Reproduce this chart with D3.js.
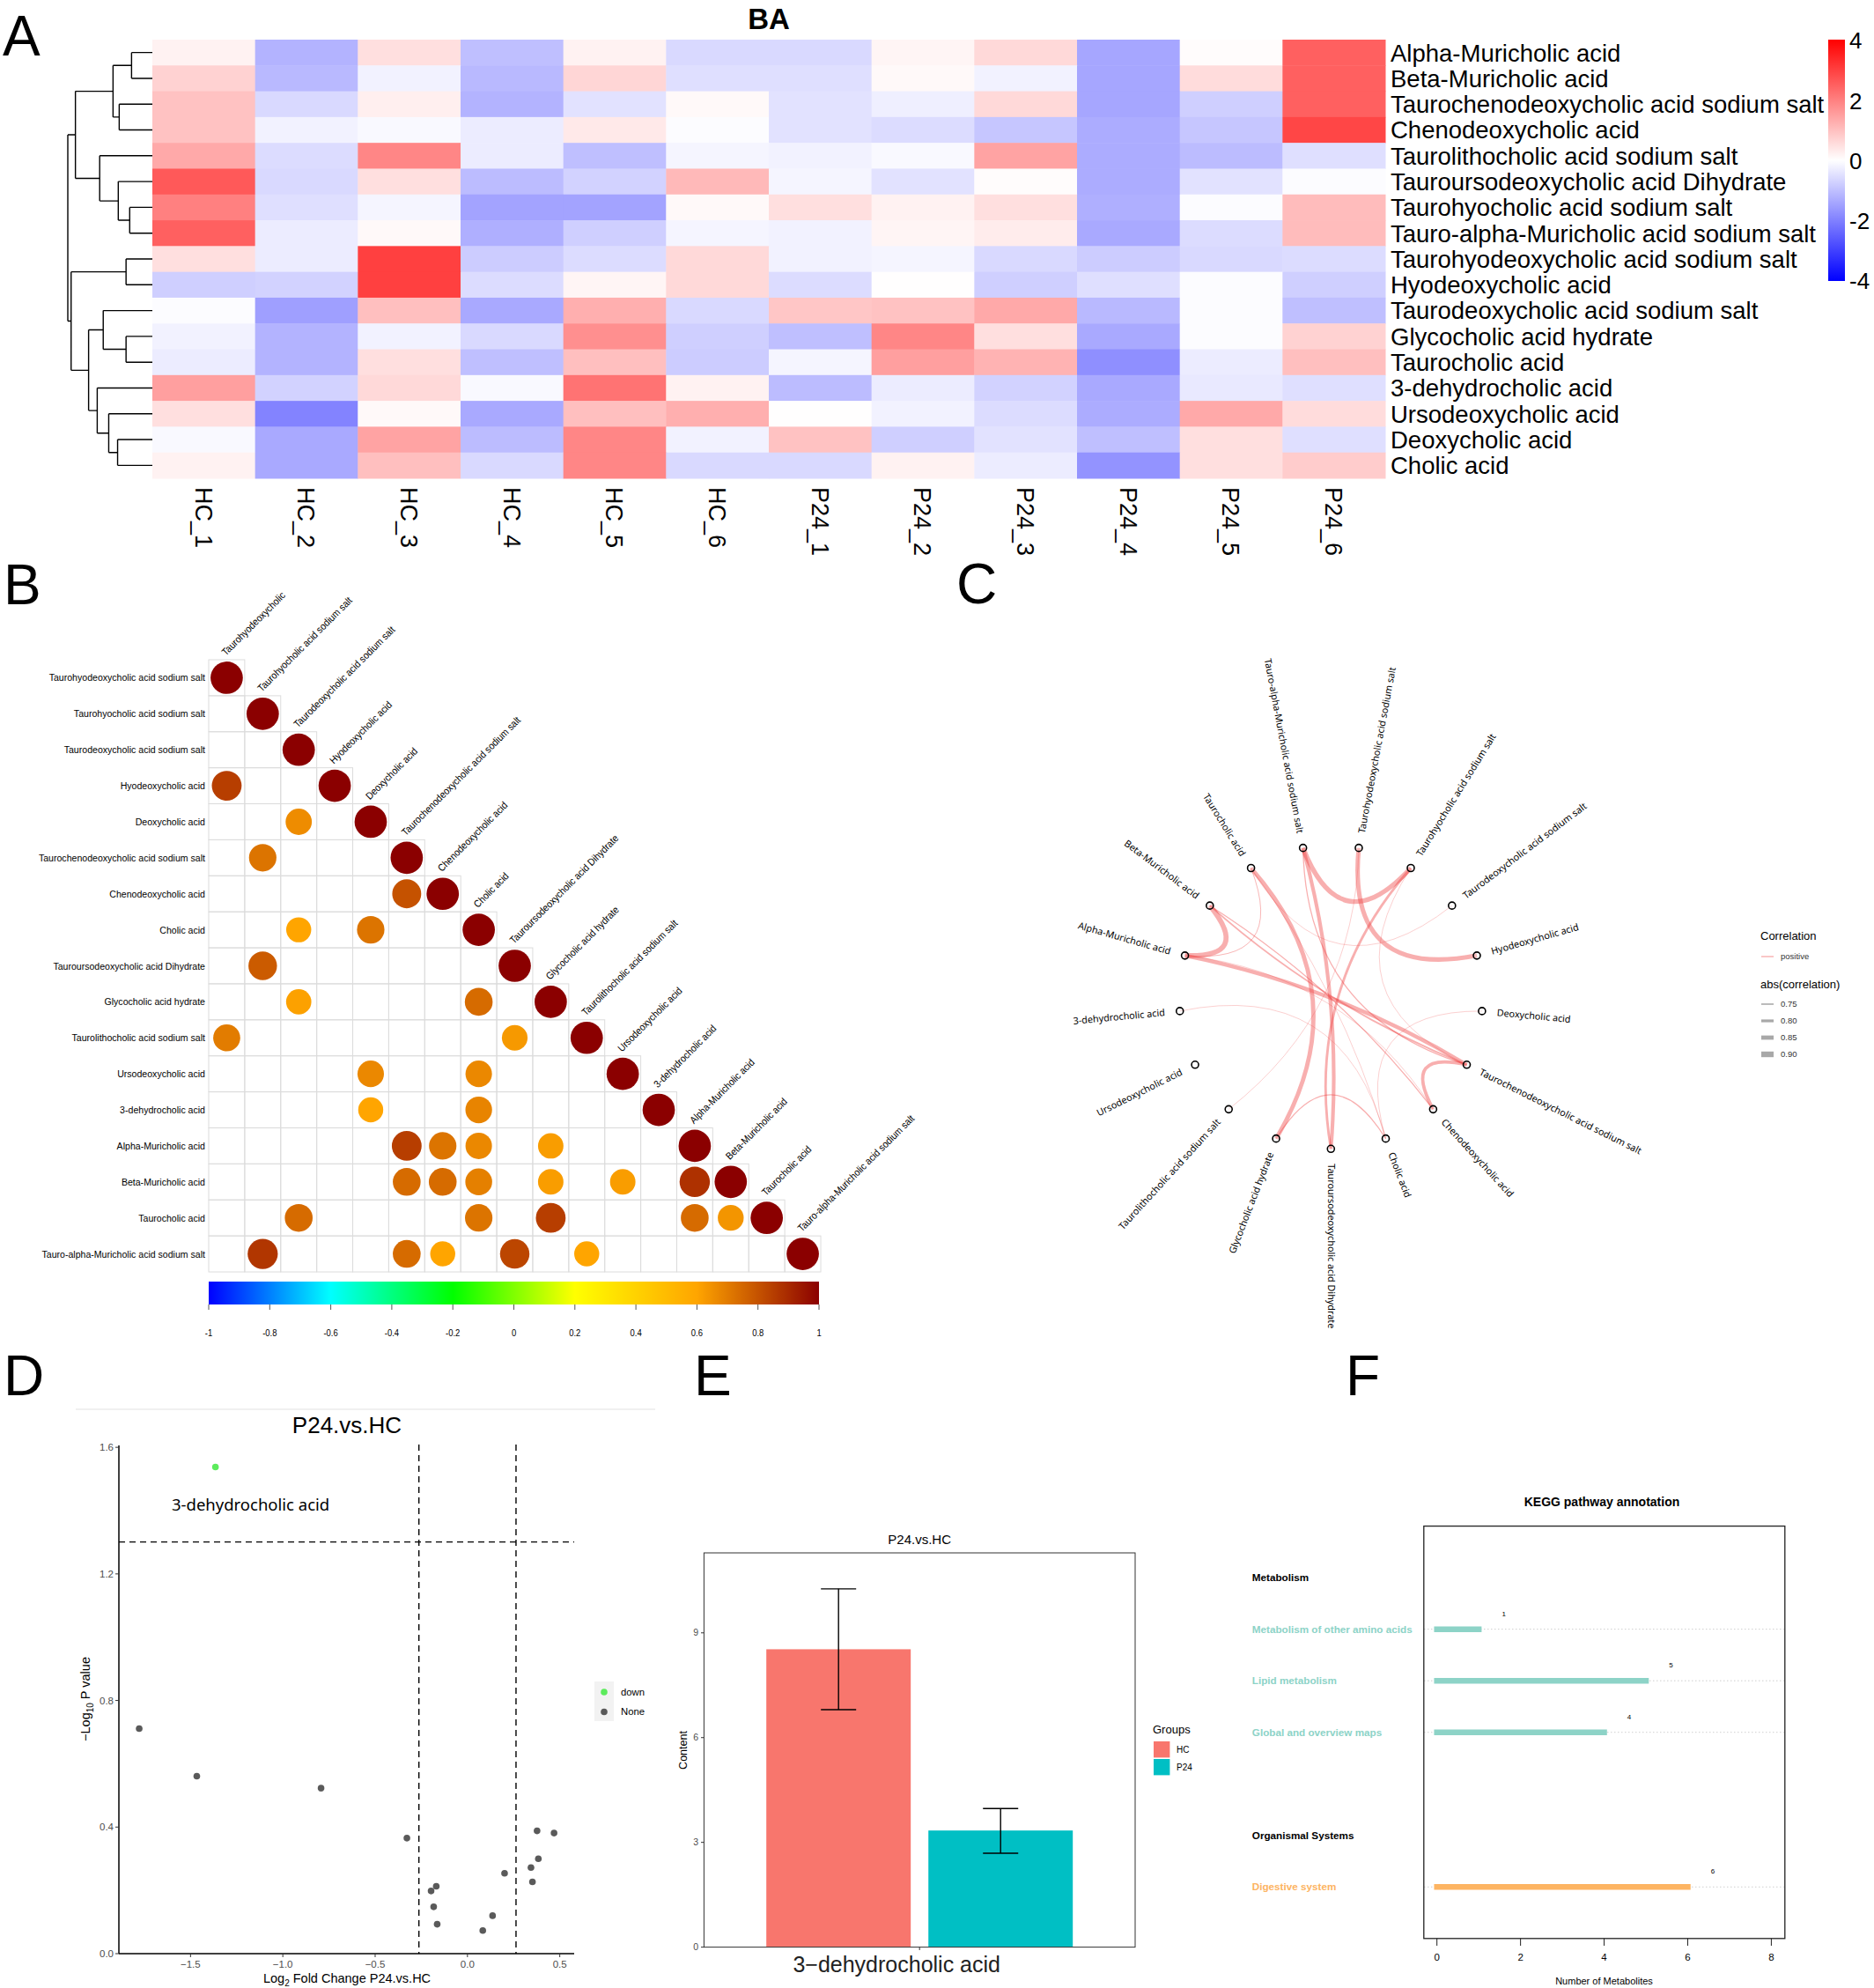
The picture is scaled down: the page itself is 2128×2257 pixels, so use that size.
<!DOCTYPE html>
<html lang="en">
<head>
<meta charset="UTF-8">
<title>BA</title>
<style>
body { margin: 0; background: #fff; }
svg { display: block; font-family: "Liberation Sans", Arial, sans-serif; }
</style>
</head>
<body>
<svg width="2128" height="2257"></svg>
<script src="https://d3js.org/d3.v7.min.js"></script>
<script>
// ---------- data ----------
var heatCols = ["HC_1", "HC_2", "HC_3", "HC_4", "HC_5", "HC_6", "P24_1", "P24_2", "P24_3", "P24_4", "P24_5", "P24_6"];
var heatRows = ["Alpha-Muricholic acid", "Beta-Muricholic acid", "Taurochenodeoxycholic acid sodium salt",
    "Chenodeoxycholic acid", "Taurolithocholic acid sodium salt", "Tauroursodeoxycholic acid Dihydrate",
    "Taurohyocholic acid sodium salt", "Tauro-alpha-Muricholic acid sodium salt", "Taurohyodeoxycholic acid sodium salt",
    "Hyodeoxycholic acid", "Taurodeoxycholic acid sodium salt", "Glycocholic acid hydrate", "Taurocholic acid",
    "3-dehydrocholic acid", "Ursodeoxycholic acid", "Deoxycholic acid", "Cholic acid"];
var heatValues = [
    [0.2, -1.2, 0.5, -1.0, 0.2, -0.6, -0.6, 0.15, 0.6, -1.4, 0.05, 2.5],
    [0.7, -1.1, -0.2, -1.1, 0.65, -0.5, -0.5, 0.1, -0.2, -1.4, 0.55, 2.5],
    [0.95, -0.6, 0.25, -1.2, -0.45, 0.1, -0.45, -0.25, 0.6, -1.4, -0.75, 2.5],
    [0.95, -0.2, -0.1, -0.3, 0.35, -0.05, -0.45, -0.55, -0.9, -1.3, -0.9, 2.9],
    [1.35, -0.55, 1.9, -0.3, -1.0, -0.15, -0.2, -0.1, 1.45, -1.3, -1.05, -0.5],
    [2.6, -0.6, 0.5, -1.05, -0.7, 1.1, -0.15, -0.45, 0.05, -1.3, -0.45, -0.05],
    [2.0, -0.5, -0.15, -1.45, -1.45, 0.1, 0.5, 0.2, 0.5, -1.25, -0.05, 1.05],
    [2.5, -0.3, 0.1, -1.25, -0.75, -0.15, -0.2, 0.15, 0.3, -1.35, -0.55, 1.05],
    [0.5, -0.3, 3.0, -0.8, -0.55, 0.6, -0.2, -0.15, -0.6, -0.8, -0.6, -0.55],
    [-0.75, -0.7, 3.0, -0.55, 0.15, 0.6, -0.55, 0.02, -0.75, -0.5, -0.05, -0.75],
    [-0.05, -1.5, 1.0, -1.35, 1.25, -0.6, 0.9, 0.95, 1.35, -1.1, -0.05, -1.0],
    [-0.2, -1.2, -0.2, -0.6, 1.75, -0.75, -1.0, 1.9, 0.5, -1.35, -0.05, 0.7],
    [-0.3, -1.2, 0.5, -1.0, 1.0, -0.8, -0.15, 1.5, 1.2, -1.75, -0.3, 1.0],
    [1.5, -0.7, 0.6, -0.1, 2.2, 0.2, -1.05, -0.3, -0.7, -1.35, -0.35, -0.5],
    [0.5, -1.95, 0.1, -1.35, 1.0, 1.25, 0.02, -0.2, -0.55, -1.3, 1.35, 0.55],
    [-0.1, -1.35, 1.45, -1.05, 1.9, -0.2, 0.95, -0.75, -0.45, -1.0, 0.5, -0.5],
    [0.2, -1.35, 1.0, -0.6, 1.9, -0.6, -0.6, 0.2, -0.3, -1.7, 0.5, 0.8]
];
// row dendrogram: [merge height, left, right], leaves are row indexes
var rowTree = [10.0,
    [9.10, [4.65, [2.46, 0, 1], [3.92, 2, 3]], [6.23, 4, [4.03, 5, [2.68, 6, 7]]]],
    [9.61, [3.11, 8, 9], [7.54, [5.81, 10, [3.11, 11, 12]], [6.52, 13, [5.16, 14, [4.11, 15, 16]]]]]];
var heatLegendTicks = [4, 2, 0, -2, -4];

var corrVars = ["Taurohyodeoxycholic acid sodium salt", "Taurohyocholic acid sodium salt",
    "Taurodeoxycholic acid sodium salt", "Hyodeoxycholic acid", "Deoxycholic acid",
    "Taurochenodeoxycholic acid sodium salt", "Chenodeoxycholic acid", "Cholic acid",
    "Tauroursodeoxycholic acid Dihydrate", "Glycocholic acid hydrate", "Taurolithocholic acid sodium salt",
    "Ursodeoxycholic acid", "3-dehydrocholic acid", "Alpha-Muricholic acid", "Beta-Muricholic acid",
    "Taurocholic acid", "Tauro-alpha-Muricholic acid sodium salt"];
var corrColLabels = ["Taurohyodeoxycholic"].concat(corrVars.slice(1));
// [row, col, r] lower triangle, significant cells only
var corrCells = [[3, 0, 0.85], [4, 2, 0.66], [5, 1, 0.72], [6, 5, 0.8], [7, 2, 0.6], [7, 4, 0.72],
    [8, 1, 0.78], [9, 2, 0.61], [9, 7, 0.74], [10, 0, 0.7], [10, 8, 0.63], [11, 4, 0.67], [11, 7, 0.67],
    [12, 4, 0.6], [12, 7, 0.68], [13, 5, 0.85], [13, 6, 0.72], [13, 7, 0.67], [13, 9, 0.62],
    [14, 5, 0.74], [14, 6, 0.74], [14, 7, 0.69], [14, 9, 0.62], [14, 11, 0.62], [14, 13, 0.88],
    [15, 2, 0.74], [15, 7, 0.72], [15, 9, 0.85], [15, 13, 0.74], [15, 14, 0.64],
    [16, 1, 0.87], [16, 5, 0.74], [16, 6, 0.6], [16, 8, 0.83], [16, 10, 0.6]];
var corrBarTicks = [-1, -0.8, -0.6, -0.4, -0.2, 0, 0.2, 0.4, 0.6, 0.8, 1];

// circular network, clockwise from the bottom
var netNodes = ["Tauroursodeoxycholic acid Dihydrate", "Glycocholic acid hydrate", "Taurolithocholic acid sodium salt",
    "Ursodeoxycholic acid", "3-dehydrocholic acid", "Alpha-Muricholic acid", "Beta-Muricholic acid",
    "Taurocholic acid", "Tauro-alpha-Muricholic acid sodium salt", "Taurohyodeoxycholic acid sodium salt",
    "Taurohyocholic acid sodium salt", "Taurodeoxycholic acid sodium salt", "Hyodeoxycholic acid",
    "Deoxycholic acid", "Taurochenodeoxycholic acid sodium salt", "Chenodeoxycholic acid", "Cholic acid"];
var netEdges = [
    ["Tauro-alpha-Muricholic acid sodium salt", "Taurohyocholic acid sodium salt", 0.87],
    ["Taurohyodeoxycholic acid sodium salt", "Hyodeoxycholic acid", 0.86],
    ["Alpha-Muricholic acid", "Beta-Muricholic acid", 0.88],
    ["Alpha-Muricholic acid", "Taurochenodeoxycholic acid sodium salt", 0.84],
    ["Taurochenodeoxycholic acid sodium salt", "Chenodeoxycholic acid", 0.82],
    ["Tauro-alpha-Muricholic acid sodium salt", "Tauroursodeoxycholic acid Dihydrate", 0.83],
    ["Taurocholic acid", "Glycocholic acid hydrate", 0.85],
    ["Taurohyocholic acid sodium salt", "Tauroursodeoxycholic acid Dihydrate", 0.79],
    ["Beta-Muricholic acid", "Taurochenodeoxycholic acid sodium salt", 0.76],
    ["Beta-Muricholic acid", "Chenodeoxycholic acid", 0.74],
    ["Alpha-Muricholic acid", "Chenodeoxycholic acid", 0.72],
    ["Tauro-alpha-Muricholic acid sodium salt", "Taurochenodeoxycholic acid sodium salt", 0.74],
    ["Taurocholic acid", "Taurodeoxycholic acid sodium salt", 0.72],
    ["Taurocholic acid", "Cholic acid", 0.72],
    ["Taurocholic acid", "Alpha-Muricholic acid", 0.73],
    ["Glycocholic acid hydrate", "Cholic acid", 0.74],
    ["Deoxycholic acid", "Cholic acid", 0.72],
    ["Taurohyocholic acid sodium salt", "Taurochenodeoxycholic acid sodium salt", 0.72],
    ["Taurohyodeoxycholic acid sodium salt", "Taurolithocholic acid sodium salt", 0.66],
    ["3-dehydrocholic acid", "Cholic acid", 0.68]];
var netLegendWidths = [0.75, 0.80, 0.85, 0.90];

var volcX = [-1.365, -1.778, -1.466, -0.793, -0.328, -0.197, -0.169, -0.183, -0.164, 0.083, 0.136, 0.201, 0.344, 0.352, 0.377, 0.384, 0.469];
var volcY = [1.538, 0.711, 0.561, 0.523, 0.365, 0.198, 0.213, 0.148, 0.093, 0.073, 0.120, 0.254, 0.272, 0.227, 0.388, 0.300, 0.381];
var volcGroup = ["down", "None", "None", "None", "None", "None", "None", "None", "None", "None", "None", "None", "None", "None", "None", "None", "None"];
var volcXTicks = [-1.5, -1.0, -0.5, 0.0, 0.5];
var volcYTicks = [0.0, 0.4, 0.8, 1.2, 1.6];

var barGroups = ["HC", "P24"];
var barMeans = [8.53, 3.34];
var barUpper = [10.26, 3.97];
var barLower = [6.80, 2.69];
var barTicks = [0, 3, 6, 9];

var keggLabels = ["Metabolism", "Metabolism of other amino acids", "Lipid metabolism", "Global and overview maps", "", "Organismal Systems", "Digestive system"];
var keggCounts = [null, 1, 5, 4, null, null, 6];
var keggClass = ["head", "met", "met", "met", "", "head", "org"];
var keggTicks = [0, 2, 4, 6, 8];

// ---------- setup ----------
var svg = d3.select("svg");
svg.append("rect").attr("width", 2128).attr("height", 2257).attr("fill", "#fff");

function letter(t, x, y) {
    svg.append("text").attr("x", x).attr("y", y).attr("font-size", 64).text(t);
}
letter("A", 3, 63);
letter("B", 4, 686);
letter("C", 1086, 685);
letter("D", 4, 1584);
letter("E", 788, 1584);
letter("F", 1528, 1584);

// ---------- A: heatmap ----------
var gA = svg.append("g");
var xA = d3.scaleBand().domain(heatCols).range([173, 1573]);
var yA = d3.scaleBand().domain(heatRows).range([45, 543]);
var heatColor = d3.scaleLinear().domain([-4, 0, 4]).range(["#0000FF", "#FFFFFF", "#FF0000"]);

heatRows.forEach(function(r, i) {
    gA.selectAll(null).data(heatValues[i]).enter().append("rect")
        .attr("x", function(d, j) { return xA(heatCols[j]); })
        .attr("y", yA(r))
        .attr("width", xA.bandwidth() + 0.5)
        .attr("height", yA.bandwidth() + 0.5)
        .attr("fill", function(d) { return heatColor(d); });
});

gA.append("text").attr("x", 873).attr("y", 33).attr("text-anchor", "middle")
    .attr("font-size", 33).attr("font-weight", "bold").text("BA");

gA.selectAll(".rl").data(heatRows).enter().append("text")
    .attr("x", 1579).attr("y", function(d) { return yA(d) + yA.bandwidth() / 2; })
    .attr("dy", "0.36em").attr("font-size", 27.5).text(function(d) { return d; });

gA.selectAll(".cl").data(heatCols).enter().append("text")
    .attr("transform", function(d) { return "translate(" + (xA(d) + xA.bandwidth() / 2) + ",553) rotate(90)"; })
    .attr("dy", "0.36em").attr("font-size", 27).text(function(d) { return d; });

// dendrogram
function toNode(t) {
    return Array.isArray(t) ? { h: t[0], children: [toNode(t[1]), toNode(t[2])] } : { h: 0, leaf: t };
}
var treeRoot = d3.hierarchy(toNode(rowTree));
treeRoot.eachAfter(function(n) {
    n.py = n.children ? (n.children[0].py + n.children[1].py) / 2 : yA(heatRows[n.data.leaf]) + yA.bandwidth() / 2;
});
var dendroX = d3.scaleLinear().domain([0, 10]).range([173, 77]);
var dendroPath = d3.path();
treeRoot.descendants().forEach(function(n) {
    if (!n.children) return;
    var x = dendroX(n.data.h);
    dendroPath.moveTo(x, n.children[0].py);
    dendroPath.lineTo(x, n.children[1].py);
    n.children.forEach(function(c) {
        dendroPath.moveTo(x, c.py);
        dendroPath.lineTo(dendroX(c.data.h), c.py);
    });
});
gA.append("path").attr("d", dendroPath.toString()).attr("fill", "none")
    .attr("stroke", "#000").attr("stroke-width", 1.4);

// legend
var heatGrad = svg.append("defs").append("linearGradient").attr("id", "heatGrad")
    .attr("x1", 0).attr("x2", 0).attr("y1", 1).attr("y2", 0);
[-4, -2, 0, 2, 4].forEach(function(v) {
    heatGrad.append("stop").attr("offset", (v + 4) / 8).attr("stop-color", heatColor(v));
});
var legY = d3.scaleLinear().domain([-4, 4]).range([319, 46]);
gA.append("rect").attr("x", 2076).attr("y", 45).attr("width", 19).attr("height", 274).attr("fill", "url(#heatGrad)");
gA.selectAll(".lt").data(heatLegendTicks).enter().append("text")
    .attr("x", 2100).attr("y", function(d) { return legY(d); }).attr("dy", "0.36em")
    .attr("font-size", 26).text(function(d) { return d; });

// ---------- B: correlation plot ----------
var gB = svg.append("g");
var xB = d3.scaleBand().domain(d3.range(17)).range([237, 932]);
var yB = d3.scaleBand().domain(d3.range(17)).range([749, 1444]);
var corrColor = d3.scaleLinear().domain([-1, -0.6, -0.2, 0.2, 0.6, 1])
    .range(["#0000FF", "#00FFFF", "#00FF00", "#FFFF00", "#FFA500", "#8B0000"]);
var cell = xB.bandwidth();

var triCells = [];
d3.range(17).forEach(function(i) { d3.range(i + 1).forEach(function(j) { triCells.push([i, j]); }); });
gB.selectAll(".gc").data(triCells).enter().append("rect")
    .attr("x", function(d) { return xB(d[1]); }).attr("y", function(d) { return yB(d[0]); })
    .attr("width", cell).attr("height", cell)
    .attr("fill", "none").attr("stroke", "#DCDCDC").attr("stroke-width", 1);

var allCells = corrCells.concat(corrVars.map(function(v, i) { return [i, i, 1]; }));
gB.selectAll(".cc").data(allCells).enter().append("circle")
    .attr("cx", function(d) { return xB(d[1]) + cell / 2; })
    .attr("cy", function(d) { return yB(d[0]) + cell / 2; })
    .attr("r", function(d) { return 0.449 * cell * Math.sqrt(Math.abs(d[2])); })
    .attr("fill", function(d) { return corrColor(d[2]); });

gB.selectAll(".rowl").data(corrVars).enter().append("text")
    .attr("transform", function(d, i) { return "translate(233," + (yB(i) + cell / 2) + ") scale(0.92,1)"; })
    .attr("text-anchor", "end").attr("dy", "0.35em").attr("font-size", 11.5)
    .text(function(d) { return d; });

gB.selectAll(".coll").data(corrColLabels).enter().append("text")
    .attr("transform", function(d, i) { return "translate(" + (xB(i) + cell / 2 - 1) + "," + (yB(i) - 4) + ") rotate(-45) scale(0.9,1)"; })
    .attr("font-size", 11.5).text(function(d) { return d; });

var cbScale = d3.scaleLinear().domain([-1, 1]).range([237, 930]);
var cbGrad = svg.select("defs").append("linearGradient").attr("id", "cbGrad");
corrColor.domain().forEach(function(v) {
    cbGrad.append("stop").attr("offset", (v + 1) / 2).attr("stop-color", corrColor(v));
});
gB.append("rect").attr("x", 237).attr("y", 1455).attr("width", 693).attr("height", 26).attr("fill", "url(#cbGrad)");
gB.selectAll(".cbt").data(corrBarTicks).enter().append("line")
    .attr("x1", function(d) { return cbScale(d); }).attr("x2", function(d) { return cbScale(d); })
    .attr("y1", 1481).attr("y2", 1487).attr("stroke", "#555");
gB.selectAll(".cbl").data(corrBarTicks).enter().append("text")
    .attr("transform", function(d) { return "translate(" + cbScale(d) + ",1517) scale(0.86,1)"; })
    .attr("text-anchor", "middle").attr("font-size", 11).text(function(d) { return d; });

// ---------- C: circular network ----------
var gC = svg.append("g");
var netC = [1511.3, 1132], netR = 172.3;
var netAngle = d3.scaleLinear().domain([0, netNodes.length]).range([90, 450]);
function nodeAngle(name) { return netAngle(netNodes.indexOf(name)); }
function nodePos(name, r) {
    var a = nodeAngle(name) * Math.PI / 180;
    return [netC[0] + r * Math.cos(a), netC[1] + r * Math.sin(a)];
}
var edgeWidth = d3.scaleLinear().domain([0.72, 0.9]).range([0.6, 6.4]).clamp(true);

gC.selectAll(".edge").data(netEdges).enter().append("path")
    .attr("d", function(d) {
        var pa = nodePos(d[0], netR), pb = nodePos(d[1], netR);
        var da = Math.abs(nodeAngle(d[0]) - nodeAngle(d[1])) % 360;
        if (da > 180) da = 360 - da;
        var k = 0.2 + 0.0099 * da;
        var mx = (pa[0] + pb[0]) / 2, my = (pa[1] + pb[1]) / 2;
        var p = d3.path();
        p.moveTo(pa[0], pa[1]);
        p.quadraticCurveTo(mx + k * (netC[0] - mx), my + k * (netC[1] - my), pb[0], pb[1]);
        return p.toString();
    })
    .attr("fill", "none").attr("stroke", "#EE4040").attr("stroke-opacity", 0.42)
    .attr("stroke-width", function(d) { return edgeWidth(d[2]); });

gC.selectAll(".node").data(netNodes).enter().append("circle")
    .attr("cx", function(d) { return nodePos(d, netR)[0]; })
    .attr("cy", function(d) { return nodePos(d, netR)[1]; })
    .attr("r", 4).attr("fill", "#fff").attr("fill-opacity", 0.2)
    .attr("stroke", "#000").attr("stroke-width", 1.6);

gC.selectAll(".nl").data(netNodes).enter().append("text")
    .attr("transform", function(d) {
        var a = nodeAngle(d), p = nodePos(d, netR + 17);
        var left = Math.cos(a * Math.PI / 180) < -1e-6;
        return "translate(" + p[0] + "," + p[1] + ") rotate(" + (left ? a - 180 : a) + ")";
    })
    .attr("text-anchor", function(d) { return Math.cos(nodeAngle(d) * Math.PI / 180) < -1e-6 ? "end" : "start"; })
    .attr("dy", "0.35em").attr("font-family", "'Noto Sans', 'DejaVu Sans', sans-serif")
    .attr("font-size", 10.8).text(function(d) { return d; });

// legend
gC.append("text").attr("x", 1999).attr("y", 1067).attr("font-size", 13).text("Correlation");
gC.append("line").attr("x1", 2000).attr("x2", 2014).attr("y1", 1086).attr("y2", 1086)
    .attr("stroke", "#EE4444").attr("stroke-opacity", 0.5).attr("stroke-width", 1.2);
gC.append("text").attr("x", 2022).attr("y", 1089).attr("font-size", 9.5).attr("fill", "#333").text("positive");
gC.append("text").attr("x", 1999).attr("y", 1122).attr("font-size", 13).text("abs(correlation)");
gC.selectAll(".lw").data(netLegendWidths).enter().append("line")
    .attr("x1", 2000).attr("x2", 2014)
    .attr("y1", function(d, i) { return 1140 + i * 19; }).attr("y2", function(d, i) { return 1140 + i * 19; })
    .attr("stroke", "#A8A8A8").attr("stroke-width", function(d) { return edgeWidth(d); });
gC.selectAll(".lwt").data(netLegendWidths).enter().append("text")
    .attr("x", 2022).attr("y", function(d, i) { return 1143 + i * 19; })
    .attr("font-size", 9.5).attr("fill", "#333").text(function(d) { return d.toFixed(2); });

// ---------- D: volcano ----------
var gD = svg.append("g");
var xD = d3.scaleLinear().domain([-1.888, 0.578]).range([135, 652]);
var yD = d3.scaleLinear().domain([0, 1.606]).range([2218, 1641]);
var volcColor = { down: "#5CEB5C", None: "#5A5A5A" };

gD.append("line").attr("x1", 86).attr("x2", 744).attr("y1", 1600).attr("y2", 1600).attr("stroke", "#EBEBEB").attr("stroke-width", 1.5);
gD.append("text").attr("x", 394).attr("y", 1627).attr("text-anchor", "middle").attr("font-size", 26).text("P24.vs.HC");

[-0.263, 0.263].forEach(function(v) {
    gD.append("line").attr("x1", xD(v)).attr("x2", xD(v)).attr("y1", 1640).attr("y2", 2218)
        .attr("stroke", "#000").attr("stroke-width", 1.4).attr("stroke-dasharray", "7,5");
});
gD.append("line").attr("x1", 135).attr("x2", 652).attr("y1", yD(1.301)).attr("y2", yD(1.301))
    .attr("stroke", "#000").attr("stroke-width", 1.4).attr("stroke-dasharray", "7,5");

gD.append("line").attr("x1", 135).attr("x2", 135).attr("y1", 1641).attr("y2", 2218).attr("stroke", "#000").attr("stroke-width", 1.5);
gD.append("line").attr("x1", 135).attr("x2", 652).attr("y1", 2218).attr("y2", 2218).attr("stroke", "#000").attr("stroke-width", 1.5);

gD.selectAll(".yt").data(volcYTicks).enter().append("line")
    .attr("x1", 131).attr("x2", 135).attr("y1", function(d) { return yD(d); }).attr("y2", function(d) { return yD(d); })
    .attr("stroke", "#333");
gD.selectAll(".ytl").data(volcYTicks).enter().append("text")
    .attr("x", 129).attr("y", function(d) { return yD(d); }).attr("dy", "0.35em").attr("text-anchor", "end")
    .attr("font-size", 11.5).attr("fill", "#4D4D4D").text(function(d) { return d.toFixed(1); });
gD.selectAll(".xt").data(volcXTicks).enter().append("line")
    .attr("x1", function(d) { return xD(d); }).attr("x2", function(d) { return xD(d); }).attr("y1", 2218).attr("y2", 2222)
    .attr("stroke", "#333");
gD.selectAll(".xtl").data(volcXTicks).enter().append("text")
    .attr("x", function(d) { return xD(d); }).attr("y", 2234).attr("text-anchor", "middle")
    .attr("font-size", 11.5).attr("fill", "#4D4D4D").text(function(d) { return d.toFixed(1).replace("-", "\u2212"); });

var xlab = gD.append("text").attr("x", 394).attr("y", 2251).attr("text-anchor", "middle").attr("font-size", 14.5);
xlab.append("tspan").text("Log");
xlab.append("tspan").attr("dy", 4).attr("font-size", 10).text("2");
xlab.append("tspan").attr("dy", -4).text(" Fold Change P24.vs.HC");
var ylab = gD.append("text").attr("transform", "translate(102,1929) rotate(-90)").attr("text-anchor", "middle").attr("font-size", 14.5);
ylab.append("tspan").text("\u2212Log");
ylab.append("tspan").attr("dy", 4).attr("font-size", 10).text("10");
ylab.append("tspan").attr("dy", -4).text(" P value");

gD.selectAll(".pt").data(volcX).enter().append("circle")
    .attr("cx", function(d) { return xD(d); })
    .attr("cy", function(d, i) { return yD(volcY[i]); })
    .attr("r", 3.8).attr("fill", function(d, i) { return volcColor[volcGroup[i]]; });
gD.append("text").attr("x", 195).attr("y", 1715).attr("font-family", "'Noto Sans', sans-serif")
    .attr("font-size", 18.5).text("3-dehydrocholic acid");

gD.append("rect").attr("x", 675).attr("y", 1909).attr("width", 22).attr("height", 45).attr("fill", "#F2F2F2");
["down", "None"].forEach(function(g, i) {
    gD.append("circle").attr("cx", 686).attr("cy", 1921 + i * 22.5).attr("r", 3.8).attr("fill", volcColor[g]);
    gD.append("text").attr("x", 705).attr("y", 1921 + i * 22.5).attr("dy", "0.35em").attr("font-size", 11.3).text(g);
});

// ---------- E: bar chart ----------
var gE = svg.append("g");
var yE = d3.scaleLinear().domain([0, 11.29]).range([2210.6, 1763]);
var cxE = 1044.2;
var xE = d3.scaleBand().domain(barGroups).range([cxE - 174, cxE + 174]).paddingInner(0.109);
var barColor = d3.scaleOrdinal().domain(barGroups).range(["#F8766D", "#00BFC4"]);

gE.append("text").attr("x", cxE).attr("y", 1753).attr("text-anchor", "middle").attr("font-size", 15).text("P24.vs.HC");
gE.selectAll(".bar").data(barGroups).enter().append("rect")
    .attr("x", function(d) { return xE(d); }).attr("width", xE.bandwidth())
    .attr("y", function(d, i) { return yE(barMeans[i]); })
    .attr("height", function(d, i) { return yE(0) - yE(barMeans[i]); })
    .attr("fill", function(d) { return barColor(d); });
barGroups.forEach(function(g, i) {
    var cx = xE(g) + xE.bandwidth() / 2;
    gE.append("line").attr("x1", cx).attr("x2", cx).attr("y1", yE(barUpper[i])).attr("y2", yE(barLower[i])).attr("stroke", "#000").attr("stroke-width", 1.4);
    [barUpper[i], barLower[i]].forEach(function(v) {
        gE.append("line").attr("x1", cx - 20).attr("x2", cx + 20).attr("y1", yE(v)).attr("y2", yE(v)).attr("stroke", "#000").attr("stroke-width", 1.4);
    });
});
gE.append("rect").attr("x", 799.4).attr("y", 1763).attr("width", 489.6).attr("height", 447.6)
    .attr("fill", "none").attr("stroke", "#333").attr("stroke-width", 1);
gE.selectAll(".yt").data(barTicks).enter().append("line")
    .attr("x1", 796).attr("x2", 799.4).attr("y1", function(d) { return yE(d); }).attr("y2", function(d) { return yE(d); })
    .attr("stroke", "#333");
gE.selectAll(".ytl").data(barTicks).enter().append("text")
    .attr("x", 793).attr("y", function(d) { return yE(d); }).attr("dy", "0.35em").attr("text-anchor", "end")
    .attr("font-size", 10.5).attr("fill", "#4D4D4D").text(function(d) { return d; });
gE.append("line").attr("x1", cxE).attr("x2", cxE).attr("y1", 2210.6).attr("y2", 2214).attr("stroke", "#333");
gE.append("text").attr("x", cxE - 26).attr("y", 2239).attr("text-anchor", "middle").attr("font-size", 25)
    .attr("fill", "#222").text("3\u2212dehydrocholic acid");
gE.append("text").attr("transform", "translate(780,1987) rotate(-90)").attr("text-anchor", "middle")
    .attr("font-size", 12.5).text("Content");
gE.append("text").attr("x", 1309).attr("y", 1968).attr("font-size", 13).text("Groups");
barGroups.forEach(function(g, i) {
    gE.append("rect").attr("x", 1310).attr("y", 1977 + i * 20).attr("width", 18.4).attr("height", 18.4).attr("fill", barColor(g));
    gE.append("text").attr("x", 1336).attr("y", 1986.5 + i * 20).attr("dy", "0.35em").attr("font-size", 10).text(g);
});

// ---------- F: KEGG ----------
var gF = svg.append("g");
var xF = d3.scaleLinear().domain([0, 8]).range([1631.7, 2011.4]);
var yF = d3.scaleLinear().domain([-1, 7]).range([1732.6, 2200.8]);
var keggColor = { head: "#000", met: "#8DD3C7", org: "#FDB462" };

gF.append("text").attr("x", 1819).attr("y", 1710).attr("text-anchor", "middle").attr("font-size", 14)
    .attr("font-weight", "bold").text("KEGG pathway annotation");
keggLabels.forEach(function(l, i) {
    if (!l) return;
    gF.append("text").attr("x", 1421.8).attr("y", yF(i)).attr("dy", "0.35em").attr("font-size", 11.7)
        .attr("font-weight", "bold").attr("fill", keggColor[keggClass[i]]).text(l);
    if (keggCounts[i] === null) return;
    gF.append("line").attr("x1", 1617).attr("x2", 2026).attr("y1", yF(i)).attr("y2", yF(i))
        .attr("stroke", "#CFCFCF").attr("stroke-dasharray", "1.5,2.5");
    gF.append("line").attr("x1", xF(0)).attr("x2", xF(keggCounts[i])).attr("y1", yF(i)).attr("y2", yF(i))
        .attr("stroke", keggColor[keggClass[i]]).attr("stroke-width", 6.5).attr("stroke-linecap", "square");
    gF.append("text").attr("x", xF(keggCounts[i] + 0.6)).attr("y", yF(i) - 17.6).attr("dy", "0.35em")
        .attr("text-anchor", "middle").attr("font-size", 8).text(keggCounts[i]);
});
gF.append("rect").attr("x", 1616.8).attr("y", 1732.6).attr("width", 410).attr("height", 468.2)
    .attr("fill", "none").attr("stroke", "#222").attr("stroke-width", 1.3);
gF.selectAll(".xt").data(keggTicks).enter().append("line")
    .attr("x1", function(d) { return xF(d); }).attr("x2", function(d) { return xF(d); })
    .attr("y1", 2200.8).attr("y2", 2209).attr("stroke", "#222");
gF.selectAll(".xtl").data(keggTicks).enter().append("text")
    .attr("x", function(d) { return xF(d); }).attr("y", 2226).attr("text-anchor", "middle")
    .attr("font-size", 11.5).text(function(d) { return d; });
gF.append("text").attr("x", 1821.5).attr("y", 2253).attr("text-anchor", "middle").attr("font-size", 11).text("Number of Metabolites");
</script>
</body>
</html>
